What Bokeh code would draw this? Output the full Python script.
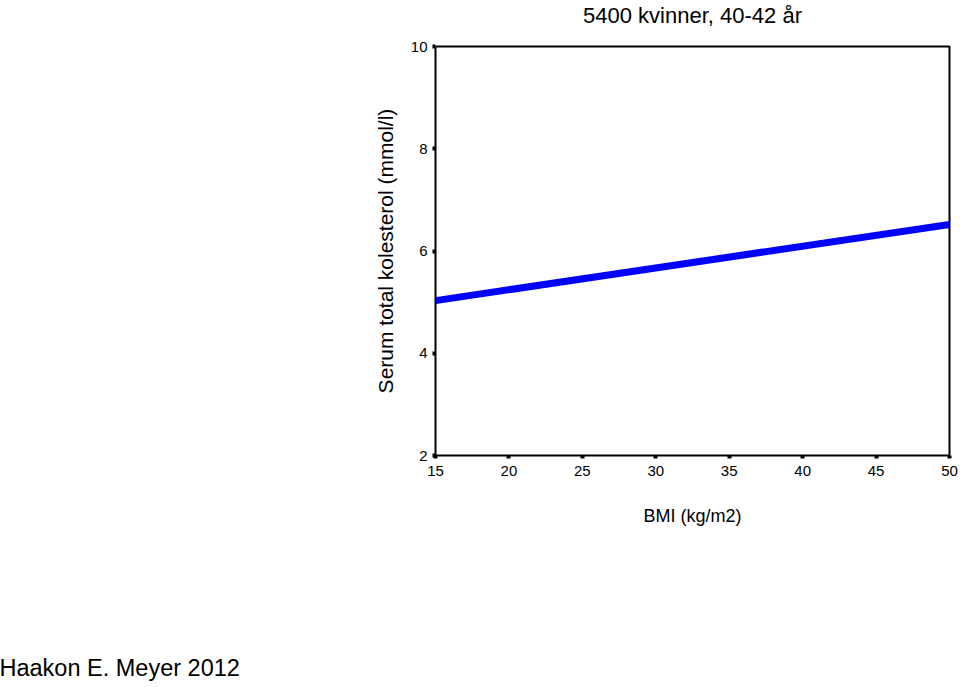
from bokeh.plotting import figure
from bokeh.models import Range1d, FixedTicker, Title, ColumnDataSource, LinearAxis
from bokeh.embed import file_html
from bokeh.resources import INLINE

# data
bmi = [15, 50]
cholesterol = [5.03, 6.52]
x_ticks = [15, 20, 25, 30, 35, 40, 45, 50]
y_ticks = [2, 4, 6, 8, 10]
title_text = "5400 kvinner, 40-42 år"
x_label = "BMI (kg/m2)"
y_label = "Serum total kolesterol (mmol/l)"
credit = "Haakon E. Meyer 2012"

FONT = "Liberation Sans"
FRAME_LEFT = 435
FRAME_BOTTOM = 455

p = figure(width=960, height=687, output_backend="svg", toolbar_location=None,
           x_range=Range1d(15, 50), y_range=Range1d(2, 10),
           min_border_left=FRAME_LEFT, min_border_right=11, min_border_top=46,
           min_border_bottom=687 - FRAME_BOTTOM)
p.background_fill_color = "white"
p.border_fill_color = "white"
p.outline_line_color = "black"
p.outline_line_width = 2
p.grid.visible = False

src = ColumnDataSource(dict(x=bmi, y=cholesterol))
p.line("x", "y", source=src, line_color="#0000ff", line_width=7)

for ax in (p.xaxis[0], p.yaxis[0]):
    ax.axis_line_color = None
    ax.major_tick_line_color = "black"
    ax.major_tick_line_width = 4
    ax.major_tick_out = 3
    ax.major_tick_in = 0
    ax.minor_tick_line_color = None
    ax.major_label_text_font = FONT
    ax.major_label_text_font_size = "15px"
    ax.major_label_text_color = "black"
    ax.axis_label_text_font = FONT
    ax.axis_label_text_font_style = "normal"
    ax.axis_label_text_color = "black"

p.xaxis.ticker = FixedTicker(ticks=x_ticks)
p.yaxis.ticker = FixedTicker(ticks=y_ticks)
p.xaxis.major_label_standoff = 7
p.yaxis.major_label_standoff = 5
p.xaxis.axis_label = x_label
p.xaxis.axis_label_text_font_size = "18px"
p.xaxis.axis_label_standoff = 27
p.yaxis.axis_label = y_label
p.yaxis.axis_label_text_font_size = "21px"
p.yaxis.axis_label_standoff = 11


def spacer(size):
    # an invisible axis (white tick, no labels) used only to reserve room in a side panel
    return LinearAxis(ticker=FixedTicker(ticks=[x_ticks[0]], minor_ticks=[]), axis_line_color=None,
                      major_tick_line_color="white", major_tick_line_width=1,
                      minor_tick_line_color=None, major_label_text_color=None,
                      major_tick_out=size, major_tick_in=0, minor_tick_out=0, minor_tick_in=0)


p.add_layout(spacer(19), "above")
top_title = Title(text=title_text, align="center", text_font=FONT, text_font_size="22px",
                  text_font_style="normal", text_color="black", standoff=0)
p.add_layout(top_title, "above")

p.add_layout(spacer(123), "below")
credit_title = Title(text=credit, align="left", offset=-436, text_font=FONT,
                     text_font_size="23.5px", text_font_style="normal", text_color="black",
                     standoff=2)
p.add_layout(credit_title, "below")

open("out.html", "w").write(file_html(p, INLINE))
